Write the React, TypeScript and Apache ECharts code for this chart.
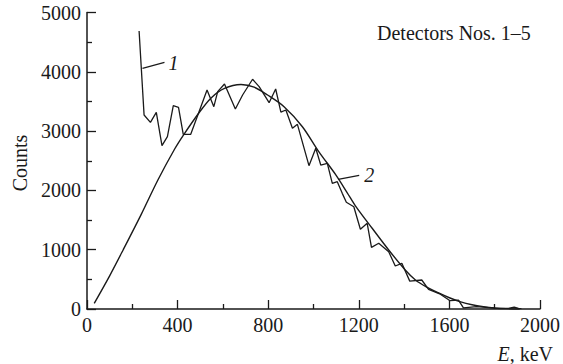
import React, { useEffect, useRef } from "react";
import * as echarts from "echarts";

// Measured spectrum (curve 1)
const spectrumEnergy = [230, 252, 280, 306, 331, 355, 381, 404, 425, 458, 530, 560, 577, 607, 655, 687, 731, 760, 804, 833, 856, 878, 907, 929, 980, 1010, 1032, 1061, 1083, 1105, 1127, 1145, 1178, 1207, 1237, 1256, 1288, 1332, 1361, 1390, 1425, 1478, 1508, 1560, 1603, 1640, 1662, 1720, 1800, 1860, 1886, 1905, 1918];
const spectrumCounts = [4688, 3271, 3148, 3317, 2754, 2906, 3428, 3401, 2946, 2946, 3693, 3412, 3665, 3794, 3373, 3609, 3874, 3749, 3479, 3710, 3320, 3356, 3047, 3114, 2417, 2710, 2428, 2457, 2120, 2147, 1950, 1800, 1725, 1344, 1445, 1040, 1108, 966, 725, 770, 470, 489, 332, 250, 140, 150, 20, 40, 15, 10, 30, 10, 5];

// Calculated spectrum (curve 2)
const fitEnergy = [32, 100, 160, 240, 313, 387, 428, 497, 548, 607, 680, 738, 797, 870, 951, 1024, 1097, 1149, 1185, 1259, 1332, 1405, 1450, 1500, 1550, 1600, 1650, 1700, 1750, 1800, 1850, 1910];
const fitCounts = [96, 560, 1000, 1600, 2175, 2698, 2946, 3322, 3560, 3720, 3785, 3740, 3609, 3412, 3074, 2650, 2270, 1960, 1740, 1361, 995, 658, 490, 370, 275, 190, 120, 72, 40, 18, 6, 0];

const xTicks = [0, 400, 800, 1200, 1600, 2000];
const yTicks = [0, 1000, 2000, 3000, 4000, 5000];

const INK = "#1a1a1a";
const FAMILY = "Liberation Serif";

export default function App() {
  const ref = useRef<HTMLDivElement>(null);
  useEffect(() => {
    if (!ref.current) return;
    const chart = echarts.init(ref.current, null, { renderer: "svg" });
    const axisCommon = {
      axisLine: { show: true, lineStyle: { color: INK, width: 1.5 } },
      axisTick: { show: true, inside: true, length: 9, lineStyle: { color: INK, width: 1.3 } },
      minorTick: { show: true, splitNumber: 2, length: 5, lineStyle: { color: INK, width: 1.3 } },
      splitLine: { show: false },
      minorSplitLine: { show: false },
    };
    const axisLabel = {
      show: true,
      color: INK,
      fontFamily: FAMILY,
      fontSize: 20,
      margin: 6,
      formatter: (v: number) => String(v),
    };
    chart.setOption({
      animation: false,
      backgroundColor: "#ffffff",
      textStyle: { fontFamily: FAMILY, fontSize: 20, color: INK },
      grid: { left: 87, right: 21, top: 12.5, bottom: 55, containLabel: false },
      xAxis: {
        type: "value",
        min: xTicks[0],
        max: xTicks[xTicks.length - 1],
        interval: xTicks[1] - xTicks[0],
        ...axisCommon,
        axisLabel: axisLabel,
      },
      yAxis: {
        type: "value",
        min: yTicks[0],
        max: yTicks[yTicks.length - 1],
        interval: yTicks[1] - yTicks[0],
        ...axisCommon,
        axisLabel: axisLabel,
      },
      series: [
        {
          type: "line",
          data: spectrumEnergy.map((e, i) => [e, spectrumCounts[i]]),
          showSymbol: false,
          lineStyle: { color: INK, width: 1.3 },
          z: 3,
        },
        {
          type: "line",
          data: fitEnergy.map((e, i) => [e, fitCounts[i]]),
          showSymbol: false,
          smooth: 0.3,
          lineStyle: { color: INK, width: 1.4 },
          z: 2,
        },
      ],
    });

    const a1 = chart.convertToPixel({ gridIndex: 0 }, [245, 4059]) as number[];
    const a2 = chart.convertToPixel({ gridIndex: 0 }, [1109, 2187]) as number[];
    const serif = (style: string) => ({ fontFamily: FAMILY, fontSize: 20, fontStyle: style, fill: INK });

    chart.setOption({
      graphic: [
        {
          type: "text",
          left: 377,
          top: 23,
          style: { text: "Detectors Nos. 1–5", ...serif("normal") },
        },
        {
          type: "text",
          x: 20,
          y: 163,
          rotation: Math.PI / 2,
          style: { text: "Counts", ...serif("normal"), align: "center", verticalAlign: "middle" },
        },
        {
          type: "text",
          x: 553,
          y: 354,
          style: {
            text: "{i|E}{n|, keV}",
            align: "right",
            verticalAlign: "middle",
            rich: {
              i: { fontFamily: FAMILY, fontSize: 20, fontStyle: "italic", fill: INK },
              n: { fontFamily: FAMILY, fontSize: 20, fill: INK },
            },
          },
        },
        {
          type: "line",
          shape: { x1: a1[0], y1: a1[1], x2: a1[0] + 22, y2: a1[1] - 6 },
          style: { stroke: INK, lineWidth: 1.2 },
        },
        {
          type: "text",
          x: a1[0] + 31,
          y: a1[1] - 5,
          style: { text: "1", ...serif("italic"), align: "center", verticalAlign: "middle" },
        },
        {
          type: "line",
          shape: { x1: a2[0], y1: a2[1], x2: a2[0] + 21, y2: a2[1] - 4 },
          style: { stroke: INK, lineWidth: 1.2 },
        },
        {
          type: "text",
          x: a2[0] + 31,
          y: a2[1] - 4,
          style: { text: "2", ...serif("italic"), align: "center", verticalAlign: "middle" },
        },
      ],
    });
    return () => chart.dispose();
  }, []);
  return (
    <div
      ref={ref}
      style={{ position: "absolute", left: 0, top: 0, width: 563, height: 364 }}
    />
  );
}
